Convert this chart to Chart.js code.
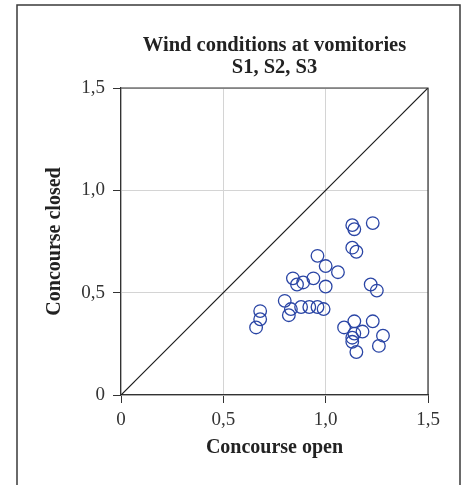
<!DOCTYPE html>
<html>
<head>
<meta charset="utf-8">
<script src="https://cdn.jsdelivr.net/npm/chart.js@4.4.1/dist/chart.umd.min.js"></script>
<style>
    html, body { margin: 0; padding: 0; background: #fff; }
    #wrap { position: relative; width: 464px; height: 485px; }
</style>
</head>
<body>
<div id="wrap"><canvas id="chart" width="464" height="485"></canvas></div>
<script>
const titleLines = ['Wind conditions at vomitories', 'S1, S2, S3']
const xTitle = 'Concourse open'
const yTitle = 'Concourse closed'
const tickValues = [0, 0.5, 1.0, 1.5]
const tickLabels = ['0', '0,5', '1,0', '1,5']

// concourse open (x) vs concourse closed (y)
const openValues = [
    1.13, 1.14, 1.23, 1.13, 1.15, 0.96, 1.00, 1.06, 0.94, 0.84,
    0.89, 0.86, 1.00, 1.22, 1.25, 0.80, 0.83, 0.82, 0.88, 0.92,
    0.96, 0.99, 0.68, 0.68, 0.66, 1.09, 1.14, 1.23, 1.18, 1.14,
    1.13, 1.13, 1.28, 1.26, 1.15
]
const closedValues = [
    0.83, 0.81, 0.84, 0.72, 0.70, 0.68, 0.63, 0.60, 0.57, 0.57,
    0.55, 0.54, 0.53, 0.54, 0.51, 0.46, 0.42, 0.39, 0.43, 0.43,
    0.43, 0.42, 0.41, 0.37, 0.33, 0.33, 0.36, 0.36, 0.31, 0.30,
    0.28, 0.26, 0.29, 0.24, 0.21
]
const diagonal = [0, 1.5]

const serif = '"Liberation Serif", "DejaVu Serif", serif'
const ink = '#333333'

const points = openValues.map((x, i) => ({ x: x, y: closedValues[i] }))

const framePlugin = {
    id: 'frame',
    afterDraw(chart) {
        const ctx = chart.ctx
        const a = chart.chartArea
        ctx.save()
        // outer figure box
        ctx.strokeStyle = '#3a3a3a'
        ctx.lineWidth = 1.5
        ctx.strokeRect(17, 5, 443, 600)
        // top and right edges of the plot
        ctx.strokeStyle = ink
        ctx.lineWidth = 1.2
        ctx.beginPath()
        ctx.moveTo(a.left, a.top)
        ctx.lineTo(a.right, a.top)
        ctx.lineTo(a.right, a.bottom)
        ctx.stroke()
        // title
        ctx.fillStyle = '#222'
        ctx.font = 'bold 20.5px ' + serif
        ctx.textAlign = 'center'
        ctx.textBaseline = 'alphabetic'
        const cx = (a.left + a.right) / 2
        titleLines.forEach((line, i) => {
            ctx.fillText(line, cx, 51 + i * 22)
        })
        ctx.restore()
    }
}

function tickText(value) {
    const i = tickValues.findIndex(v => Math.abs(v - value) < 1e-6)
    return i >= 0 ? tickLabels[i] : ''
}

const axisBase = {
    min: 0,
    max: 1.5,
    ticks: {
        stepSize: 0.5,
        color: ink,
        font: { family: serif, size: 19 },
        padding: 6,
        callback: tickText
    },
    grid: {
        color: '#d4d4d4',
        lineWidth: 1,
        tickColor: ink,
        tickLength: 8
    },
    border: { color: ink, width: 1.2 }
}

new Chart(document.getElementById('chart'), {
    type: 'scatter',
    data: {
        datasets: [
            {
                data: points,
                pointStyle: 'circle',
                pointRadius: 6.3,
                pointHoverRadius: 6.3,
                pointBorderWidth: 1.3,
                pointBorderColor: '#2a45a5',
                pointBackgroundColor: 'rgba(0,0,0,0)'
            },
            {
                type: 'line',
                data: diagonal.map(v => ({ x: v, y: v })),
                borderColor: '#1a1a1a',
                borderWidth: 1.2,
                pointRadius: 0
            }
        ]
    },
    options: {
        responsive: false,
        animation: false,
        layout: { padding: { top: 88, right: 36, bottom: 0, left: 0 } },
        plugins: {
            legend: { display: false },
            tooltip: { enabled: false }
        },
        scales: {
            x: {
                ...axisBase,
                type: 'linear',
                title: {
                    display: true,
                    text: xTitle,
                    color: '#222',
                    font: { family: serif, size: 20, weight: 'bold' },
                    padding: { top: 0, bottom: 25 }
                },
                afterFit(scale) { scale.height = 90 }
            },
            y: {
                ...axisBase,
                type: 'linear',
                ticks: { ...axisBase.ticks, padding: 8 },
                title: {
                    display: true,
                    text: yTitle,
                    color: '#222',
                    font: { family: serif, size: 20, weight: 'bold' },
                    padding: { top: 43, bottom: 0 }
                },
                afterFit(scale) { scale.width = 121 }
            }
        }
    },
    plugins: [framePlugin]
})
</script>
</body>
</html>
